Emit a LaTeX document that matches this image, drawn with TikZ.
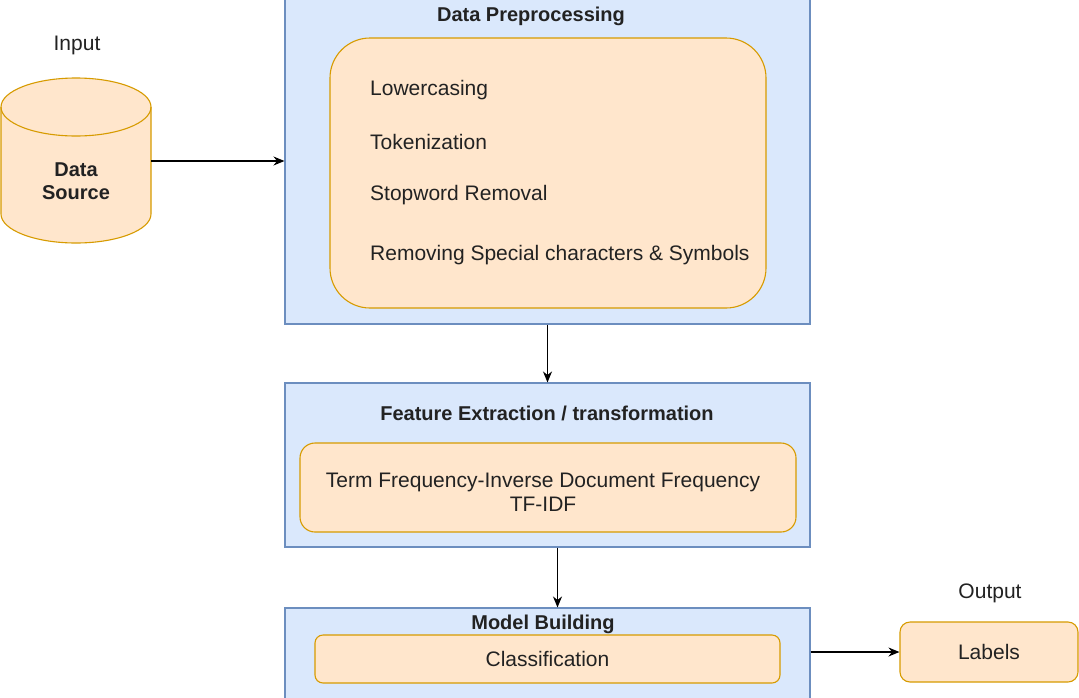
\documentclass[tikz,border=0pt]{standalone}
\usepackage{fontspec}
\setmainfont{Liberation Sans}
\usetikzlibrary{arrows.meta}
\definecolor{bfill}{HTML}{DAE8FC}
\definecolor{bdraw}{HTML}{6C8EBF}
\definecolor{ofill}{HTML}{FFE6CC}
\definecolor{odraw}{HTML}{D79B00}
\definecolor{txt}{HTML}{222222}
\begin{document}
\begin{tikzpicture}[x=1pt,y=-1pt,
  every node/.style={font=\fontsize{21}{25}\selectfont, text=txt},
  outer/.style={draw=bdraw, fill=bfill, line width=1.1pt, minimum width=525pt, inner sep=0pt},
  inner/.style={draw=odraw, fill=ofill, line width=1.1pt, inner sep=0pt},
  ttl/.style={font=\bfseries\fontsize{20}{24}\selectfont},
  arr/.style={draw=black, line width=1.2pt, -{Stealth[length=11pt,width=9pt]}}]
\clip (0,0) rectangle (1079,697);
\fill[white] (0,0) rectangle (1079,697);
% cylinder
\fill[ofill] (1,107) -- (1,214) arc (180:0:75 and 29) -- (151,107) arc (0:-180:75 and 29) -- cycle;
\draw[odraw, line width=1.1pt] (1,107) -- (1,214) arc (180:0:75 and 29) -- (151,107) arc (0:-180:75 and 29) -- cycle;
\draw[odraw, line width=1.1pt] (1,107) arc (180:0:75 and 29);
\node (src) at (76,160.5) [minimum width=150pt, minimum height=165pt, inner sep=0pt] {};
\node (srct) at (76,181) [ttl, align=center] {Data\\[-1pt]Source};
\node (inlbl) at (77,45) {Input};
% box 1
\node (b1) at (547.5,157) [outer, minimum height=334pt] {};
\node (b1t) at (531,16) [ttl] {Data Preprocessing};
\node (i1) at (548,173) [inner, minimum width=436pt, minimum height=270pt, rounded corners=40pt] {};
\node (l1) at (370,90) [anchor=west, inner sep=0pt] {Lowercasing};
\node (l2) at (370,142) [anchor=west, inner sep=0pt] {Tokenization};
\node (l3) at (370,195) [anchor=west, inner sep=0pt] {Stopword Removal};
\node (l4) at (370,255) [anchor=west, inner sep=0pt] {Removing Special characters \& Symbols};
% box 2
\node (b2) at (547.5,465) [outer, minimum height=164pt] {};
\node (b2t) at (547,413) [ttl] {Feature Extraction / transformation};
\node (i2) at (548,487.5) [inner, minimum width=496pt, minimum height=89pt, rounded corners=15pt] {};
\node (i2t) at (543,492) [align=center] {Term Frequency-Inverse Document Frequency\\[-1pt]TF-IDF};
% box 3
\node (b3) at (547.5,659) [outer, minimum height=102pt] {};
\node (b3t) at (543,624) [ttl] {Model Building};
\node (i3) at (547.5,659) [inner, minimum width=465pt, minimum height=48pt, rounded corners=8pt] {Classification};
% labels
\node (lab) at (989,652) [inner, minimum width=178pt, minimum height=60pt, rounded corners=10pt] {Labels};
\node (outlbl) at (990,593) {Output};
% arrows
\draw[arr] (src.east |- 0,161) -- (b1.west |- 0,161);
\draw[arr] (b1.south) -- (b2.north);
\draw[arr] ([xshift=10pt]b2.south) -- ([xshift=10pt]b3.north);
\draw[arr] (b3.east |- lab.west) -- (lab.west);
\end{tikzpicture}
\end{document}
